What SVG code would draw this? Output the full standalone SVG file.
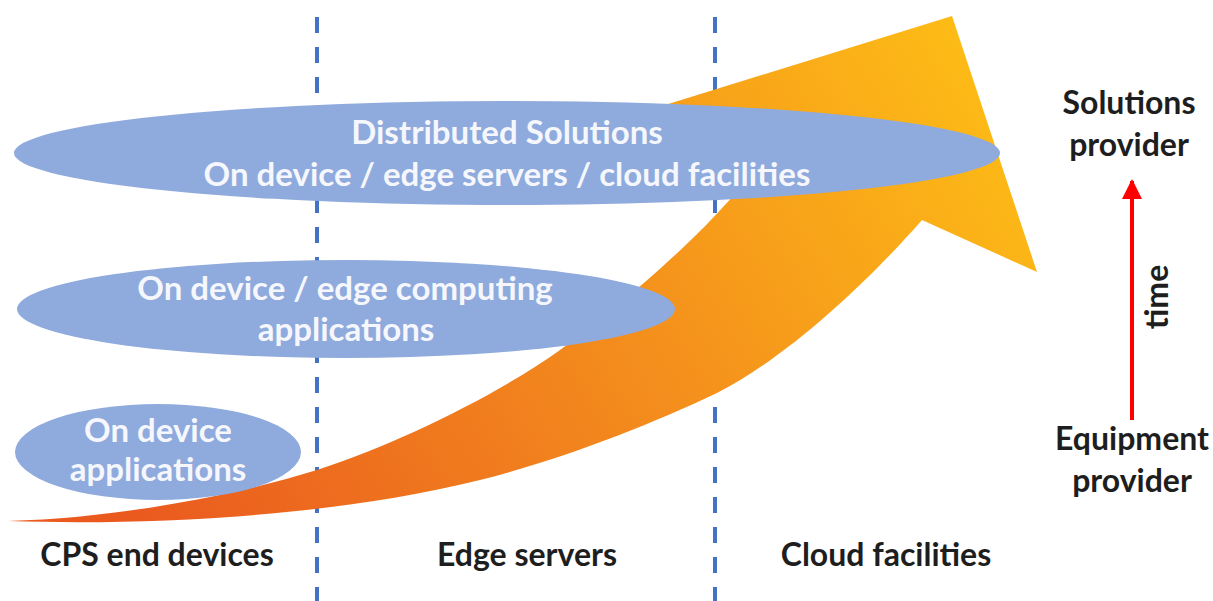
<svg xmlns="http://www.w3.org/2000/svg" width="1213" height="601" viewBox="0 0 1213 601">
  <style>
    .divider { stroke: #4472C4; stroke-width: 4; stroke-dasharray: 16 14; fill: none; }
    .bubble { fill: #8FAADC; }
    .btxt { font-family: Lato, "Open Sans", "Liberation Sans", sans-serif; font-weight: 700; font-size: 33px; fill: #F5F7FC; text-anchor: middle; }
    .lbl { font-family: Lato, "Open Sans", "Liberation Sans", sans-serif; font-weight: 700; font-size: 32px; fill: #1E1E1E; text-anchor: middle; }
    .timeline { stroke: #FF0000; stroke-width: 4; fill: none; }
  </style>
  <defs>
    <linearGradient id="growGrad" gradientUnits="userSpaceOnUse" x1="150" y1="540" x2="960" y2="40">
      <stop offset="0" stop-color="#EA5A1F"/>
      <stop offset="0.5" stop-color="#F38A1D"/>
      <stop offset="1" stop-color="#FDBB16"/>
    </linearGradient>
    <marker id="redHead" viewBox="0 0 10 10" refX="9" refY="5" markerWidth="5" markerHeight="5" orient="auto" markerUnits="strokeWidth">
      <path d="M0,0 L10,5 L0,10 z" fill="#FF0000"/>
    </marker>
  </defs>

  <rect width="1213" height="601" fill="#FFFFFF"/>

  <g id="dividers">
    <line class="divider" x1="317" y1="17" x2="317" y2="601"/>
    <line class="divider" x1="715" y1="17" x2="715" y2="601"/>
  </g>

  <g id="growth-arrow">
    <path fill="url(#growGrad)" d="M 8 521 C 120 518 240 494 317 470 C 400 443 500 393 560 350 C 600 322 680 255 723 207 L 765 162 L 620 119 L 952 16 L 1037 272 L 922 220 C 866 284 786 358 717 393 C 650 425 560 460 480 480 C 340 515 160 526 8 521 Z"/>
  </g>

  <g id="node-distributed">
    <ellipse class="bubble" cx="507" cy="153" rx="493" ry="52"/>
    <text class="btxt" x="507" y="144">Distributed Solutions</text>
    <text class="btxt" x="507" y="186">On device / edge servers / cloud facilities</text>
  </g>

  <g id="node-edge-computing">
    <ellipse class="bubble" cx="346" cy="309" rx="329" ry="49"/>
    <text class="btxt" x="345" y="300">On device / edge computing</text>
    <text class="btxt" x="346" y="341">applications</text>
  </g>

  <g id="node-on-device">
    <ellipse class="bubble" cx="158" cy="452" rx="143" ry="48"/>
    <text class="btxt" x="158" y="442">On device</text>
    <text class="btxt" x="158" y="481">applications</text>
  </g>

  <g id="label-cps">
    <text class="lbl" x="157" y="566">CPS end devices</text>
  </g>
  <g id="label-edge">
    <text class="lbl" x="527" y="566">Edge servers</text>
  </g>
  <g id="label-cloud">
    <text class="lbl" x="886" y="566">Cloud facilities</text>
  </g>

  <g id="label-solutions-provider">
    <text class="lbl" x="1129" y="114">Solutions</text>
    <text class="lbl" x="1129" y="156">provider</text>
  </g>
  <g id="label-equipment-provider">
    <text class="lbl" x="1132" y="450">Equipment</text>
    <text class="lbl" x="1132" y="492">provider</text>
  </g>

  <g id="connectors">
    <line class="timeline" x1="1132" y1="420" x2="1132" y2="181" marker-end="url(#redHead)"/>
    <text class="lbl" transform="translate(1168,297) rotate(-90)" x="0" y="0">time</text>
  </g>
</svg>
